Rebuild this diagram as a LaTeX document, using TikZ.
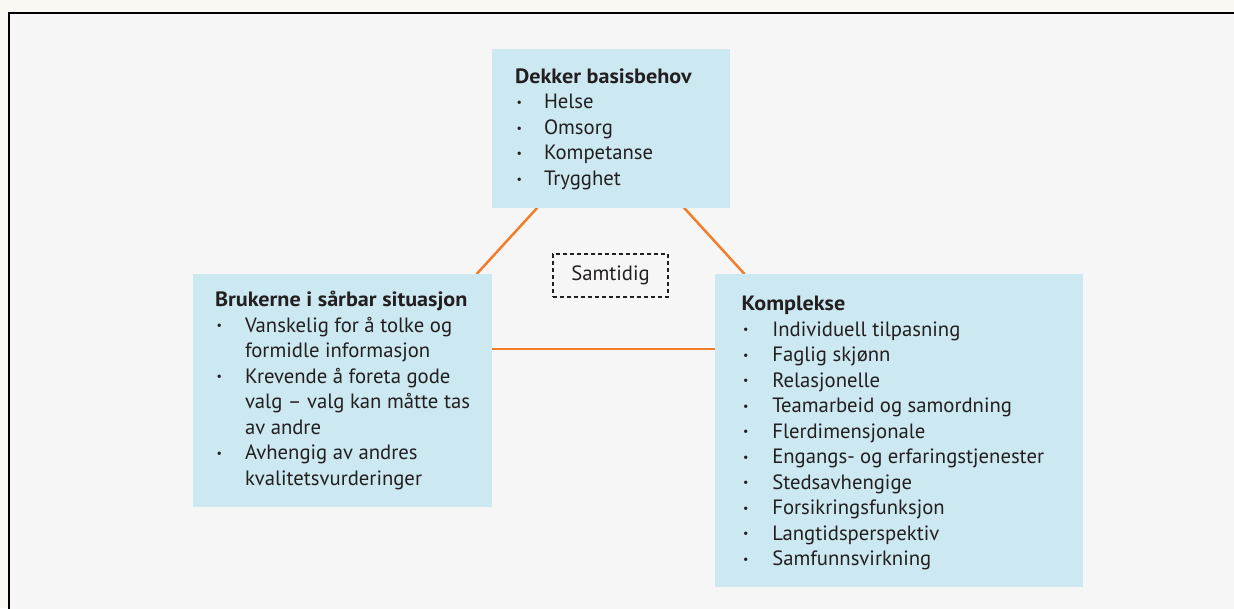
\documentclass[tikz,border=0pt]{standalone}
\usepackage{fontspec}
\setmainfont{PT Sans}
\usepackage{array}
\definecolor{bgout}{HTML}{F9F8F3}
\definecolor{bgin}{HTML}{F6F6F6}
\definecolor{boxfill}{HTML}{CCE8F1}
\definecolor{conn}{HTML}{F07E2A}
\definecolor{ink}{HTML}{231F20}
\newcommand{\itm}{\hspace{1.5pt}\raisebox{2.3pt}{\fontsize{12}{12}\selectfont\textbullet}}
\newcommand{\ttl}[1]{\scalebox{1.07}[1]{\bfseries #1}}
\begin{document}
\begin{tikzpicture}[x=1pt,y=-1pt,
  infobox/.style={fill=boxfill, draw=none, inner sep=0pt, outer sep=0pt, anchor=north west},
  txt/.style={anchor=base west, inner sep=0pt, outer sep=0pt, text=ink, font=\fontsize{20.7}{25.5}\selectfont},
  link/.style={draw=conn, line width=2.5pt},
  dashbox/.style={draw=ink, dash pattern=on 4pt off 3pt, line width=1.1pt, inner sep=0pt, minimum width=115pt, minimum height=43pt, text=ink, font=\fontsize{20.7}{24}\selectfont}
]
\useasboundingbox (0,0) rectangle (1234,608);
\clip (0,0) rectangle (1234,608);
\fill[bgout] (0,0) rectangle (1234,608);
\draw[line width=2pt, fill=bgin] (9,12.5) rectangle (1260,640);

% connector end points
\coordinate (tl) at (537.3,207.7);
\coordinate (lt) at (476.7,274);
\coordinate (tr) at (684,207.7);
\coordinate (rt) at (744.5,274);
\coordinate (lr) at (492,349);
\coordinate (rl) at (715,349);
\draw[link] (tl) -- (lt);
\draw[link] (tr) -- (rt);
\draw[link] (lr) -- (rl);

% boxes
\node[infobox, minimum width=238pt, minimum height=158.7pt] (topbox) at (492,49) {};
\node[infobox, minimum width=299pt, minimum height=233pt] (leftbox) at (193,274) {};
\node[infobox, minimum width=368pt, minimum height=313.5pt] (rightbox) at (715,273.5) {};

% texts
\node[txt] (toptext) at (515,83.3) {\begin{tabular}[t]{@{}p{29pt}@{}l@{}}
\multicolumn{2}{@{}l@{}}{\ttl{Dekker basisbehov}}\\
\itm & Helse\\
\itm & Omsorg\\
\itm & Kompetanse\\
\itm & Trygghet
\end{tabular}};

\node[txt] (lefttext) at (215,306.7) {\begin{tabular}[t]{@{}p{30pt}@{}l@{}}
\multicolumn{2}{@{}l@{}}{\ttl{Brukerne i sårbar situasjon}}\\
\itm & Vanskelig for å tolke og\\
 & formidle informasjon\\
\itm & Krevende å foreta gode\\
 & valg – valg kan måtte tas\\
 & av andre\\
\itm & Avhengig av andres\\
 & kvalitetsvurderinger
\end{tabular}};

\node[txt] (righttext) at (741.7,310.5) {\begin{tabular}[t]{@{}p{30.6pt}@{}l@{}}
\multicolumn{2}{@{}l@{}}{\ttl{Komplekse}}\\
\itm & Individuell tilpasning\\
\itm & Faglig skjønn\\
\itm & Relasjonelle\\
\itm & Teamarbeid og samordning\\
\itm & Flerdimensjonale\\
\itm & Engangs- og erfaringstjenester\\
\itm & Stedsavhengige\\
\itm & Forsikringsfunksjon\\
\itm & Langtidsperspektiv\\
\itm & Samfunnsvirkning
\end{tabular}};

\node[dashbox] (samtidig) at (610.5,275.5) {Samtidig};
\end{tikzpicture}
\end{document}
